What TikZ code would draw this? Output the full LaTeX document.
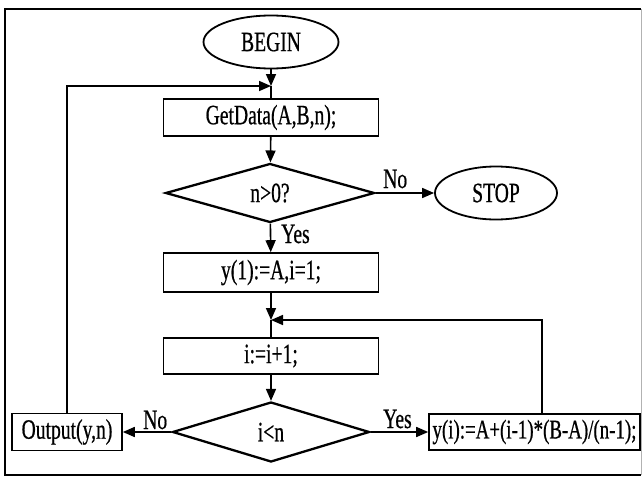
\documentclass[tikz,border=0pt]{standalone}
\usepackage{fontspec}
\setmainfont{Liberation Serif}[FakeStretch=0.7,FakeBold=0.6]
\usetikzlibrary{shapes.geometric,arrows.meta}
\begin{document}
\begin{tikzpicture}[x=1pt,y=-1pt,
  font=\fontsize{28}{30}\selectfont,
  box/.style={draw,line width=1.6pt,rectangle,minimum height=37pt,inner sep=0pt},
  term/.style={draw,ellipse,line width=1.8pt,inner sep=0pt},
  dec/.style={draw,diamond,line width=2.3pt,inner sep=0pt},
  arr/.style={-{Triangle[length=12pt,width=10pt]},line width=1.6pt},
  conn/.style={line width=1.6pt},
  lbl/.style={inner sep=0pt}]
\useasboundingbox (0,0) rectangle (643,477);
% frame
\draw[line width=1.8pt] (641,9) -- (5,9) -- (5,475) -- (641,475);
\draw[line width=0.6pt,black!30] (641,9) -- (641,475);
% nodes
\node[term,minimum width=135pt,minimum height=53pt] (begin) at (271,42) {BEGIN};
\node[box,minimum width=215pt] (getdata) at (271,117.5) {GetData(A,B,n);};
\node[dec,minimum width=209pt,minimum height=59pt] (d1) at (270,193) {n>0?};
\node[term,minimum width=122pt,minimum height=53pt] (stop) at (496,193) {STOP};
\node[box,minimum width=215pt,minimum height=39pt] (init) at (271,272.5) {y(1):=A,i=1;};
\node[box,minimum width=215pt,minimum height=36pt] (inc) at (271,356) {i:=i+1;};
\node[dec,minimum width=197pt,minimum height=60pt] (d2) at (271,432) {i<n};
\node[box,minimum width=110pt] (out) at (67,432) {Output(y,n)};
\node[box,minimum width=211pt,minimum height=36pt] (yi) at (534.5,432) {\fontsize{27}{30}\selectfont y(i):=A+(i-1)*(B-A)/(n-1);};
% labels
\node[lbl,anchor=base west] (no1) at (383,188) {No};
\node[lbl,anchor=base west] (yes1) at (281,243) {Yes};
\node[lbl,anchor=base west] (no2) at (143,429) {No};
\node[lbl,anchor=base west] (yes2) at (383,428) {Yes};
% junctions
\coordinate (j1) at (271,86);
\coordinate (j2) at (271,320);
% connectors
\draw[arr] (begin) -- (j1);
\draw[conn] (j1) -- (getdata);
\draw[arr] (out.north) |- (j1);
\draw[arr] (getdata) -- (d1);
\draw[arr] (d1.east) -- (stop.west);
\draw[arr] (d1) -- (init);
\draw[arr] (init) -- (j2);
\draw[conn] (j2) -- (inc);
\draw[arr] (inc) -- (d2);
\draw[arr] (d2.west) -- (out.east);
\draw[arr] (d2.east) -- (yi.west);
\draw[arr] ([xshift=7.5pt]yi.north) |- (j2);
\end{tikzpicture}
\end{document}
